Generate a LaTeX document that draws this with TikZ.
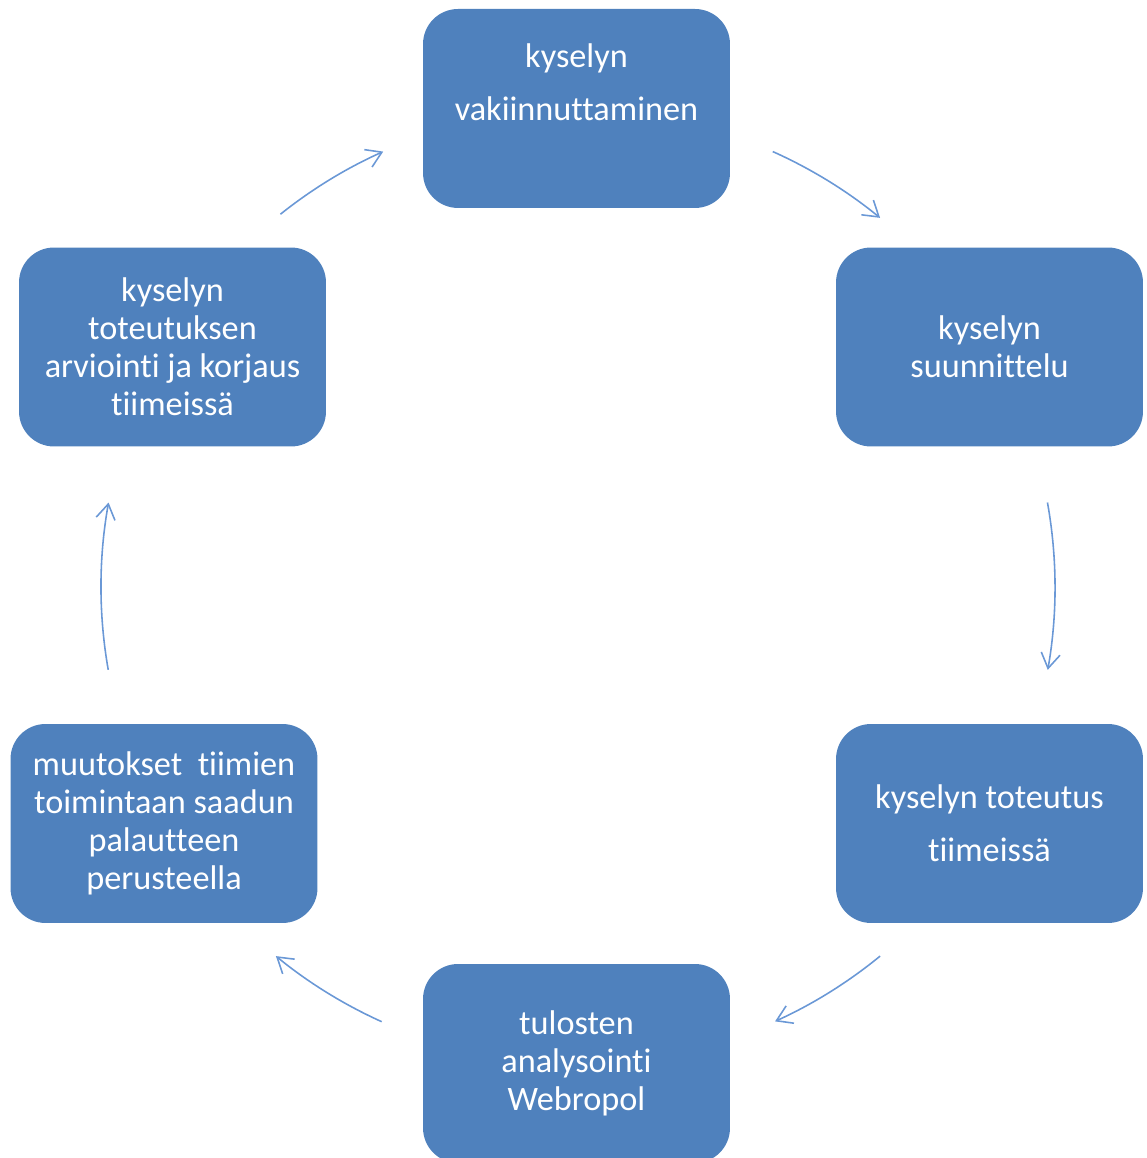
\documentclass[tikz,border=0pt]{standalone}
\usepackage{fontspec}
\setmainfont{Carlito}[Ligatures=NoCommon]
\usetikzlibrary{arrows.meta}

\definecolor{boxblue}{HTML}{4F81BD}
\definecolor{flowblue}{HTML}{6A98D6}

\newcommand*{\cycr}{477}
\newcommand*{\gap}{8.4pt}

\begin{document}
\begin{tikzpicture}
[
	x=0.02cm,y=0.02cm,
	stage/.style={rectangle,rounded corners=0.7cm,fill=boxblue,text=white,
		minimum width=6.14cm,minimum height=3.98cm,inner sep=0pt,align=center,
		font=\fontsize{19.5}{21.6}\selectfont},
	flow/.style={flowblue,line width=0.9pt,-{Straight Barb[length=3mm,width=3.8mm]}}
]

	% page frame
	\useasboundingbox (0,0) rectangle (1146,1158);
	\begin{scope}
	\clip (0,0) rectangle (1146,1158);

	% stages of the cycle
	\node[stage] at (576.5,1049.5) (vakiinnutus) {kyselyn\\[\gap]vakiinnuttaminen\\[\gap]~};
	\node[stage] at (989.5,811) (suunnittelu) {kyselyn\\suunnittelu};
	\node[stage] at (989.5,334.5) (toteutus) {kyselyn toteutus\\[\gap]tiimeissä};
	\node[stage] at (576.5,94.5) (analysointi) {tulosten\\analysointi\\Webropol};
	\node[stage] at (164,334.5) (muutokset) {muutokset\ \ tiimien\\toimintaan saadun\\palautteen\\perusteella};
	\node[stage] at (172.5,811) (arviointi) {kyselyn\\toteutuksen\\arviointi ja korjaus\\tiimeissä};

	% arrows round the hub
	\coordinate (hub) at (578,571);
	\foreach \a/\b in {65.9/50.7,10.2/-10,-50.7/-65.6,-114.3/-129.3,190/169.8,128.6/114.1}
		\draw[flow] ([shift={(\a:\cycr)}]hub) arc[start angle=\a,end angle=\b,radius=\cycr];

	\end{scope}

\end{tikzpicture}
\end{document}
